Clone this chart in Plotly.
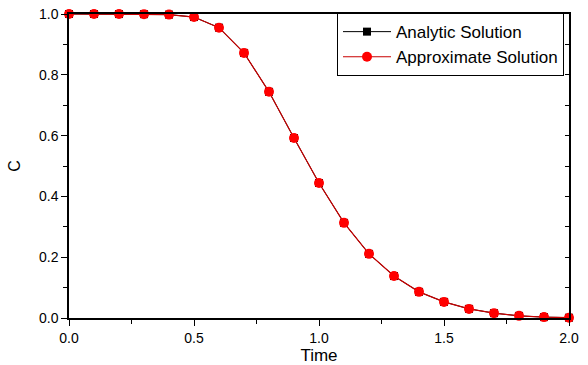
import plotly.graph_objects as go

time = [0.0, 0.1, 0.2, 0.3, 0.4, 0.5, 0.6, 0.7, 0.8, 0.9, 1.0,
        1.1, 1.2, 1.3, 1.4, 1.5, 1.6, 1.7, 1.8, 1.9, 2.0]
analytic = [1.0, 0.9999, 0.9998, 0.9995, 0.998, 0.990, 0.955, 0.872, 0.744, 0.592, 0.444,
            0.313, 0.211, 0.138, 0.086, 0.053, 0.030, 0.016, 0.007, 0.003, 0.001]
approximate = [1.0, 0.9999, 0.9998, 0.9995, 0.998, 0.990, 0.955, 0.872, 0.744, 0.592, 0.444,
               0.313, 0.211, 0.138, 0.086, 0.053, 0.030, 0.016, 0.007, 0.003, 0.001]

FONT = "Liberation Sans, Arial, sans-serif"

fig = go.Figure()
fig.add_trace(go.Scatter(
    x=time, y=analytic, mode="lines+markers", name="Analytic Solution",
    line=dict(color="black", width=1),
    marker=dict(symbol="square", size=8, color="black"),
    cliponaxis=False,
))
fig.add_trace(go.Scatter(
    x=time, y=approximate, mode="lines+markers", name="Approximate Solution",
    line=dict(color="#c80000", width=1.2),
    marker=dict(symbol="circle", size=10, color="#ff0000"),
    cliponaxis=False,
))
# invisible trace to provide mirrored axes with inward ticks
fig.add_trace(go.Scatter(x=time, y=analytic, xaxis="x2", yaxis="y2",
                         mode="none", showlegend=False, hoverinfo="skip"))

fig.update_layout(
    width=588, height=365,
    margin=dict(l=69, r=19, t=14, b=47, autoexpand=False),
    paper_bgcolor="white", plot_bgcolor="white",
    font=dict(family=FONT, size=14, color="black"),
    showlegend=True,
    legend=dict(
        x=0.99, y=1.003, xanchor="right", yanchor="top",
        bgcolor="white", bordercolor="black", borderwidth=1,
        font=dict(family=FONT, size=17, color="black"),
        tracegroupgap=0, itemwidth=48,
    ),
    xaxis=dict(
        range=[0, 2.0], tickvals=[0, 0.5, 1.0, 1.5, 2.0],
        ticktext=["0.0", "0.5", "1.0", "1.5", "2.0"],
        ticks="outside", ticklen=6, tickwidth=1, tickcolor="black",
        minor=dict(tickvals=[0.25, 0.75, 1.25, 1.75], ticks="outside", ticklen=4,
                   tickcolor="black"),
        showline=True, linecolor="black", linewidth=1.5,
        showgrid=False, zeroline=False,
        title=dict(text="Time", font=dict(size=17), standoff=3),
        tickfont=dict(size=14),
    ),
    yaxis=dict(
        range=[0, 1.0], tickvals=[0, 0.2, 0.4, 0.6, 0.8, 1.0],
        ticktext=["0.0", "0.2", "0.4", "0.6", "0.8", "1.0"],
        ticks="outside", ticklen=6, tickwidth=1, tickcolor="black",
        minor=dict(tickvals=[0.1, 0.3, 0.5, 0.7, 0.9], ticks="outside", ticklen=4,
                   tickcolor="black"),
        showline=True, linecolor="black", linewidth=1.5,
        showgrid=False, zeroline=False,
        title=dict(text="C", font=dict(size=16), standoff=14),
        tickfont=dict(size=14),
    ),
    xaxis2=dict(
        range=[0, 2.0], overlaying="x", side="top", anchor="y2",
        showticklabels=False, ticks="", showline=True, linecolor="black",
        linewidth=1.5, showgrid=False, zeroline=False,
    ),
    yaxis2=dict(
        range=[0, 1.0], overlaying="y", side="right", anchor="x2",
        tickvals=[0.1, 0.2, 0.3, 0.4, 0.5, 0.6, 0.7, 0.8, 0.9],
        showticklabels=False, ticks="inside", ticklen=4, tickcolor="black",
        showline=True, linecolor="black", linewidth=1.5,
        showgrid=False, zeroline=False,
    ),
)

fig.write_html("out.html")
